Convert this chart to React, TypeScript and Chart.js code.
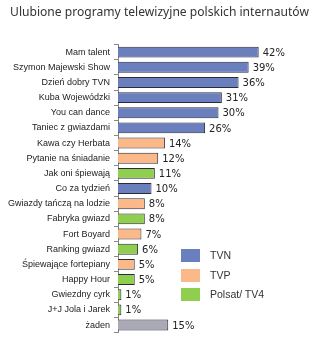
import React, { useEffect, useRef } from "react";
import { Chart, registerables } from "chart.js";

Chart.register(...registerables);

const titleText = "Ulubione programy telewizyjne polskich internautów";

const categories = [
  "Mam talent",
  "Szymon Majewski Show",
  "Dzień dobry TVN",
  "Kuba Wojewódzki",
  "You can dance",
  "Taniec z gwiazdami",
  "Kawa czy Herbata",
  "Pytanie na śniadanie",
  "Jak oni śpiewają",
  "Co za tydzień",
  "Gwiazdy tańczą na lodzie",
  "Fabryka gwiazd",
  "Fort Boyard",
  "Ranking gwiazd",
  "Śpiewające fortepiany",
  "Happy Hour",
  "Gwiezdny cyrk",
  "J+J Jola i Jarek",
  "żaden",
];

const values = [42, 39, 36, 31, 30, 26, 14, 12, 11, 10, 8, 8, 7, 6, 5, 5, 1, 1, 15];

const networks = [
  "TVN", "TVN", "TVN", "TVN", "TVN", "TVN",
  "TVP", "TVP", "Polsat", "TVN", "TVP", "Polsat",
  "TVP", "Polsat", "TVP", "Polsat", "Polsat", "Polsat", "none",
];

const legendNames = ["TVN", "TVP", "Polsat/ TV4"];
const legendKeys = ["TVN", "TVP", "Polsat"];

const colorMap: Record<string, string> = {
  TVN: "#6a7fbd",
  TVP: "#fbb98a",
  Polsat: "#8fce4e",
  none: "#aaaab6",
};

const valueLabels = {
  id: "valueLabels",
  afterDatasetsDraw(chart: any) {
    const ctx = chart.ctx;
    const meta = chart.getDatasetMeta(0);
    ctx.save();
    ctx.font = "10px 'DejaVu Sans'";
    ctx.fillStyle = "#222";
    ctx.textAlign = "left";
    ctx.textBaseline = "middle";
    meta.data.forEach((bar: any, i: number) => {
      ctx.fillText(values[i] + "%", bar.x + 4, bar.y + 1);
    });
    ctx.restore();
  },
};

export default function App() {
  const ref = useRef<HTMLCanvasElement>(null);
  useEffect(() => {
    if (!ref.current) return;
    const chart = new Chart(ref.current, {
      type: "bar",
      data: {
        labels: categories,
        datasets: [
          {
            data: values,
            backgroundColor: networks.map((n) => colorMap[n]),
            borderColor: "#2a2a3a",
            borderWidth: 1,
            borderSkipped: "left",
            barPercentage: 0.72,
            categoryPercentage: 1,
          },
        ],
      },
      options: {
        indexAxis: "y",
        animation: false,
        responsive: false,
        maintainAspectRatio: false,
        layout: { padding: { left: 0, right: 0, top: 0, bottom: 2 } },
        plugins: {
          legend: { display: false },
          tooltip: { enabled: false },
          title: {
            display: true,
            text: titleText,
            color: "#333",
            font: { family: "'Noto Sans'", size: 12.1, weight: "normal" },
            padding: { top: 5, bottom: 25 },
          },
        },
        scales: {
          x: { display: false, min: 0, max: 60 },
          y: {
            afterFit(scale: any) {
              scale.width = 118;
            },
            grid: {
              display: true,
              drawOnChartArea: false,
              offset: true,
              tickLength: 4,
              color: "#888",
            },
            border: { display: true, color: "#888" },
            ticks: {
              color: "#222",
              padding: 4,
              font: { family: "'Liberation Sans'", size: 9 },
              autoSkip: false,
            },
          },
        },
      },
      plugins: [valueLabels],
    });
    return () => chart.destroy();
  }, []);

  return (
    <div style={{ position: "absolute", left: 0, top: 0, width: 319, height: 342, background: "#fff" }}>
      <canvas ref={ref} width={319} height={342} style={{ display: "block" }} />
      {legendKeys.map((k, i) => (
        <div key={k}>
          <div
            style={{
              position: "absolute",
              left: 181,
              top: 249 + i * 19.5,
              width: 19,
              height: 13,
              background: colorMap[k],
            }}
          />
          <div
            style={{
              position: "absolute",
              left: 210,
              top: 248 + i * 19.5,
              lineHeight: "15px",
              fontFamily: "'Liberation Sans'",
              fontSize: 10.5,
              color: "#333",
            }}
          >
            {legendNames[i]}
          </div>
        </div>
      ))}
    </div>
  );
}
